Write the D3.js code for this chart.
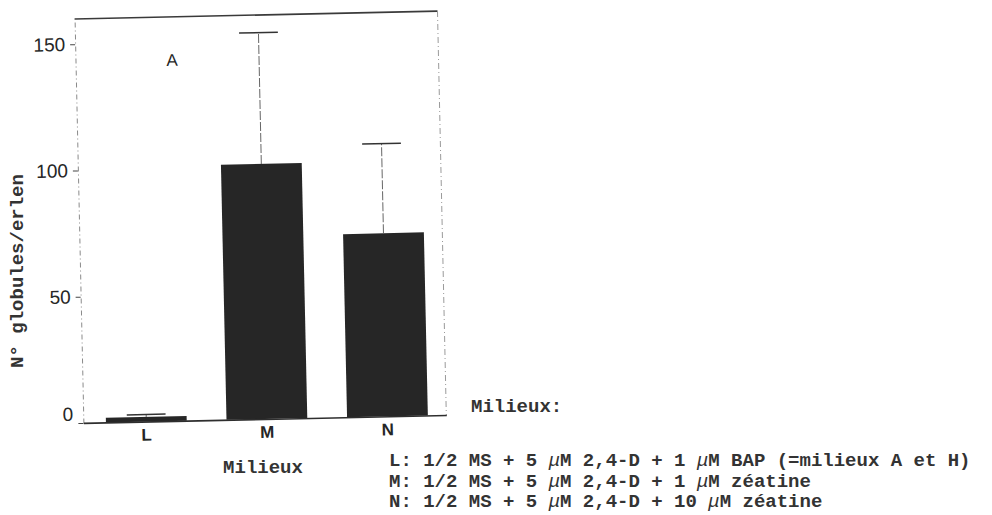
<!DOCTYPE html>
<html>
<head>
<meta charset="utf-8">
<script src="https://cdn.jsdelivr.net/npm/d3@7"></script>
<style>
  html, body { margin: 0; padding: 0; background: #ffffff; }
  svg { display: block; }
</style>
</head>
<body>
<svg id="chart" width="992" height="515"></svg>
<script>
// Culture media and mean number of globules per flask
const categories = ["L", "M", "N"];
const meanValues = [1.8, 101, 72.5];
const upperError = [2.8, 153, 108];
const yTickValues = [0, 50, 100, 150];
const panelLetter = "A";
const yTitle = "N° globules/erlen";
const xTitle = "Milieux";
const legendTitle = "Milieux:";
const legendLines = [
  "L: 1/2 MS + 5 μM 2,4-D + 1 μM BAP (=milieux A et H)",
  "M: 1/2 MS + 5 μM 2,4-D + 1 μM zéatine",
  "N: 1/2 MS + 5 μM 2,4-D + 10 μM zéatine"
];

const svg = d3.select("#chart");
const plot = { left: 79, right: 442, top: 15, bottom: 419 };

const x = d3.scaleBand()
  .domain(categories)
  .range([plot.left, plot.right])
  .paddingInner(0.33)
  .paddingOuter(0.17)
  .align(0.55);

const y = d3.scaleLinear()
  .domain([0, 160])
  .range([plot.bottom, plot.top]);

const data = categories.map((c, i) => ({ c, v: meanValues[i], e: upperError[i] }));

// the plotted panel sits slightly askew on the page
const g = svg.append("g").attr("transform", "rotate(-1.25, 260, 220)");

// frame: solid top edge, faint dashed right edge
g.append("line")
  .attr("x1", plot.left).attr("x2", plot.right)
  .attr("y1", plot.top).attr("y2", plot.top)
  .attr("stroke", "#3a3a3a").attr("stroke-width", 1.6);
g.append("line")
  .attr("x1", plot.right).attr("x2", plot.right)
  .attr("y1", plot.top).attr("y2", plot.bottom)
  .attr("stroke", "#9a9a9a").attr("stroke-width", 1)
  .attr("stroke-dasharray", "6 3 1 3");

// bars
g.selectAll("rect.bar")
  .data(data)
  .join("rect")
  .attr("class", "bar")
  .attr("x", d => x(d.c))
  .attr("width", x.bandwidth())
  .attr("y", d => y(d.v))
  .attr("height", d => y(0) - y(d.v))
  .attr("fill", "#262626");

// upper error whiskers and caps
const capW = x.bandwidth() * 0.48;
g.selectAll("line.whisker")
  .data(data)
  .join("line")
  .attr("class", "whisker")
  .attr("x1", d => x(d.c) + x.bandwidth() / 2)
  .attr("x2", d => x(d.c) + x.bandwidth() / 2)
  .attr("y1", d => y(d.v))
  .attr("y2", d => y(d.e))
  .attr("stroke", "#666").attr("stroke-width", 1)
  .attr("stroke-dasharray", "9 2");
g.selectAll("line.cap")
  .data(data)
  .join("line")
  .attr("class", "cap")
  .attr("x1", d => x(d.c) + x.bandwidth() / 2 - capW / 2)
  .attr("x2", d => x(d.c) + x.bandwidth() / 2 + capW / 2)
  .attr("y1", d => y(d.e))
  .attr("y2", d => y(d.e))
  .attr("stroke", "#333").attr("stroke-width", 1.5);

// y axis
const yAxis = g.append("g")
  .attr("transform", `translate(${plot.left},0)`)
  .call(d3.axisLeft(y).tickValues(yTickValues).tickSize(5).tickSizeOuter(0).tickPadding(5));
yAxis.select(".domain")
  .attr("stroke", "#8a8a8a").attr("stroke-width", 1)
  .attr("stroke-dasharray", "5 3 1 3");
yAxis.selectAll(".tick line").attr("stroke", "#444").attr("stroke-width", 1);
yAxis.selectAll(".tick text")
  .attr("font-family", "'Liberation Sans', Arial, sans-serif")
  .attr("font-size", 19)
  .attr("fill", "#262626")
  .attr("dy", d => d === 0 ? "-0.15em" : "0.32em");

// x axis
const xAxis = g.append("g")
  .attr("transform", `translate(0,${plot.bottom})`)
  .call(d3.axisBottom(x).tickSize(0).tickSizeOuter(0).tickPadding(7));
xAxis.select(".domain").attr("stroke", "#2e2e2e").attr("stroke-width", 1.6);
xAxis.selectAll(".tick text")
  .attr("font-family", "'Liberation Sans', Arial, sans-serif")
  .attr("font-weight", "bold")
  .attr("font-size", 17)
  .attr("fill", "#262626");

// panel letter
g.append("text")
  .attr("x", 175.5).attr("y", 64)
  .attr("text-anchor", "middle")
  .attr("font-family", "'Liberation Sans', Arial, sans-serif")
  .attr("font-size", 17)
  .attr("fill", "#262626")
  .text(panelLetter);

// typed captions
const mono = "'Liberation Mono', 'Courier New', monospace";
svg.append("text")
  .attr("transform", "translate(23,271) rotate(-90)")
  .attr("text-anchor", "middle")
  .attr("font-family", mono).attr("font-weight", "bold")
  .attr("font-size", 19).attr("fill", "#333")
  .text(yTitle);

svg.append("text")
  .attr("x", 263).attr("y", 473)
  .attr("text-anchor", "middle")
  .attr("font-family", mono).attr("font-weight", "bold")
  .attr("font-size", 19).attr("fill", "#333")
  .text(xTitle);

svg.append("text")
  .attr("x", 471).attr("y", 412)
  .attr("font-family", mono).attr("font-weight", "bold")
  .attr("font-size", 19).attr("fill", "#333")
  .attr("xml:space", "preserve")
  .text(legendTitle);

const legendBaselines = [466, 486.5, 507];
legendLines.forEach((line, i) => {
  const t = svg.append("text")
    .attr("x", 389).attr("y", legendBaselines[i])
    .attr("font-family", mono).attr("font-weight", "bold")
    .attr("font-size", 19).attr("fill", "#333")
    .attr("xml:space", "preserve")
    .style("white-space", "pre");
  line.split(/(μ)/).forEach(part => {
    const s = t.append("tspan").text(part);
    if (part === "μ") s.attr("font-style", "italic").attr("font-weight", "normal");
  });
});
</script>
</body>
</html>
